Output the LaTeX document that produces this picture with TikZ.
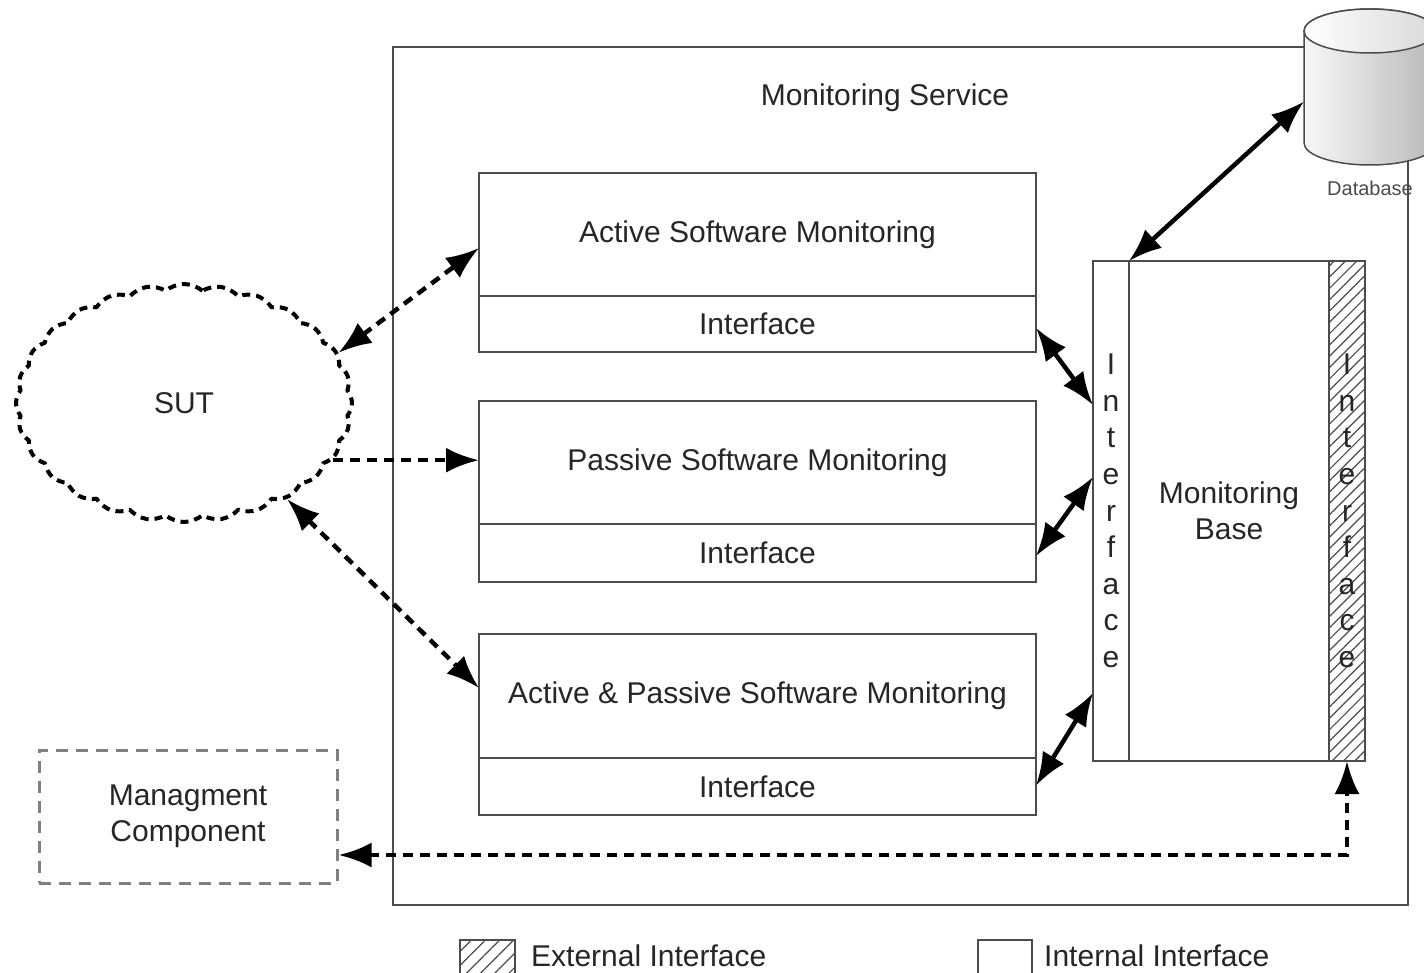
\documentclass[tikz,border=0pt]{standalone}
\usepackage{fontspec}
\setmainfont{Liberation Sans}
\usetikzlibrary{arrows.meta,shapes.symbols,patterns.meta,calc}
\begin{document}
\begin{tikzpicture}[x=1pt,y=1pt,
  lbl/.style={font=\fontsize{30}{36}\selectfont, text=black!85},
  box/.style={rectangle, draw=black!70, line width=2pt, fill=white, inner sep=0pt, outer sep=0pt},
  hatchbox/.style={rectangle, draw=black!70, line width=2pt, inner sep=0pt, outer sep=0pt,
    pattern={Lines[angle=45, distance=8pt, line width=1.2pt]}, pattern color=black!70},
  vtxt/.style={lbl, align=center, font=\fontsize{30}{36.6}\selectfont},
  tip/.tip={Latex[length=33pt,width=25pt]},
  sdbl/.style={line width=4.5pt, black, tip-tip},
  ddbl/.style={line width=4.5pt, black, dash pattern=on 10pt off 7pt, tip-tip},
  dsgl/.style={line width=4.5pt, black, dash pattern=on 10pt off 7pt, -tip}
]
\useasboundingbox (0,0) rectangle (1424,-973);
\fill[white] (0,0) rectangle (1424,-973);

% Monitoring service frame
\node[box, fill=none, minimum width=1015pt, minimum height=858pt] (ms) at (900.5,-476) {};
\node[lbl] (mstitle) at (885,-98) {Monitoring Service};

% Database
\node[minimum width=132pt, minimum height=157pt, inner sep=0pt, outer sep=0pt] (db) at (1370,-86.5) {};
\path[left color=gray!6, right color=gray!55, draw=black!70, line width=1.5pt]
  (1304,-31) -- (1304,-143) arc[start angle=180, end angle=360, x radius=66, y radius=22]
  -- (1436,-31) arc[start angle=0, end angle=180, x radius=66, y radius=22] -- cycle;
\path[left color=white, right color=gray!30, draw=black!70, line width=1.5pt]
  (1370,-31) ellipse[x radius=66, y radius=22];
\node[font=\fontsize{20}{24}\selectfont, text=black!70] (dblabel) at (1370,-188) {Database};

% Monitoring components
\node[box, lbl, minimum width=557pt, minimum height=123pt] (asm) at (757.5,-234.5) {Active Software Monitoring};
\node[box, lbl, minimum width=557pt, minimum height=56pt] (asmI) at (757.5,-324) {Interface};
\node[box, lbl, minimum width=557pt, minimum height=123pt] (psm) at (757.5,-462.5) {Passive Software Monitoring};
\node[box, lbl, minimum width=557pt, minimum height=58pt] (psmI) at (757.5,-553) {Interface};
\node[box, lbl, minimum width=557pt, minimum height=124pt] (apsm) at (757.5,-696) {Active \& Passive Software Monitoring};
\node[box, lbl, minimum width=557pt, minimum height=57pt] (apsmI) at (757.5,-786.5) {Interface};

% Monitoring base
\node[box, vtxt, minimum width=36pt, minimum height=500pt] (mbL) at (1111,-511) {I\\n\\t\\e\\r\\f\\a\\c\\e};
\node[box, lbl, align=center, minimum width=200pt, minimum height=500pt] (mbC) at (1229,-511) {Monitoring\\Base};
\node[hatchbox, vtxt, minimum width=36pt, minimum height=500pt] (mbR) at (1347,-511) {I\\n\\t\\e\\r\\f\\a\\c\\e};

% SUT
\node[cloud, cloud puffs=28, cloud puff arc=80, cloud ignores aspect,
  minimum width=336pt, minimum height=238pt, inner sep=0pt,
  draw=black, line width=4pt, line join=round, dash pattern=on 8pt off 6pt, lbl] (sut) at (184,-403) {SUT};

% Management component
\node[rectangle, draw=gray, line width=3pt, dash pattern=on 12pt off 8pt,
  minimum width=298pt, minimum height=133pt, lbl, align=center] (mgmt) at (188,-816.5) {Managment\\Component};

% Connectors
\draw[sdbl] ($(asmI.east)+(0,-4)$) -- ($(mbL.north west)+(0,-144)$);
\draw[sdbl] ($(psmI.east)+(0,-3)$) -- ($(mbL.north west)+(0,-216)$);
\draw[sdbl] ($(apsmI.east)+(0,1)$) -- ($(mbL.north west)+(0,-432)$);
\draw[sdbl] (mbL.north east) -- ($(db.west)+(0,-15)$);

\draw[ddbl] (sut.18) -- ($(asm.west)+(0,-13.5)$);
\draw[dsgl] (sut.-21) -- (sut.-21 -| psm.west);
\draw[ddbl] (sut.-43) -- ($(apsm.west)+(0,8)$);
\draw[ddbl] ($(mgmt.east)+(0,-38.5)$) -| (mbR.south);

% Legend
\node[hatchbox, pattern={Lines[angle=45, distance=10pt, line width=1.2pt]}, minimum width=55pt, minimum height=45pt] (legext) at (487.5,-962.5) {};
\node[lbl, anchor=west, inner sep=0pt] (legexttxt) at (531,-956) {External Interface};
\node[box, minimum width=54pt, minimum height=45pt] (legint) at (1005,-962.5) {};
\node[lbl, anchor=west, inner sep=0pt] (leginttxt) at (1044,-956) {Internal Interface};
\end{tikzpicture}
\end{document}
